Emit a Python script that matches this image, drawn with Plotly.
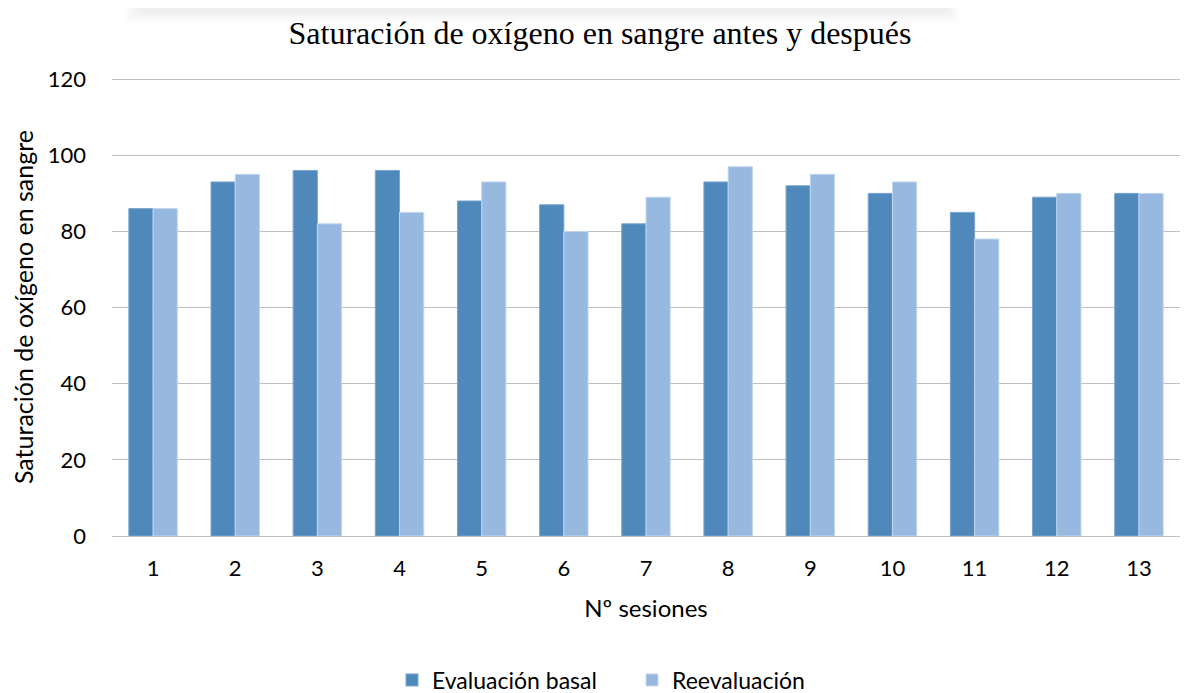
import plotly.graph_objects as go

sesiones = [str(i) for i in range(1, 14)]
basal = [86, 93, 96, 96, 88, 87, 82, 93, 92, 90, 85, 89, 90]
reev = [86, 95, 82, 85, 93, 80, 89, 97, 95, 93, 78, 90, 90]
y_ticks = [0, 20, 40, 60, 80, 100, 120]

font_sans = "Lato, 'Open Sans', sans-serif"

fig = go.Figure()
fig.add_trace(go.Bar(x=sesiones, y=basal, name="Evaluación basal",
                     marker=dict(color="#4f89bc", line=dict(color="#7aa5cf", width=1))))
fig.add_trace(go.Bar(x=sesiones, y=reev, name="Reevaluación",
                     marker=dict(color="#97b8df", line=dict(color="#c4d7ee", width=1))))

L, R, T, B = 104, 31, 70, 165
PH = 693.0 - T - B
PW = 1203.0 - L - R

# faint blurred shadow strip at the very top of the page
for i in range(8):
    fig.add_shape(type="rect", xref="paper", yref="paper",
                  x0=(117 - L + i * 2) / PW, x1=(952 - L - i * 2) / PW,
                  y0=1 + (T - 15 + i * 1.5) / PH, y1=1 + (T - 0) / PH,
                  fillcolor="black", opacity=0.009, line=dict(width=0), layer="below")

fig.update_layout(
    width=1203, height=693,
    margin=dict(l=L, r=R, t=T, b=B, autoexpand=False),
    paper_bgcolor="white", plot_bgcolor="white",
    barmode="group", bargap=0.41, bargroupgap=0.0,
    title=dict(text="Saturación de oxígeno en sangre antes y después",
               x=(600 - 8) / 1203, xanchor="center", y=1 - 25 / 693, yanchor="middle",
               font=dict(family="'Liberation Serif', 'Times New Roman', serif", size=32, color="#000000")),
    xaxis=dict(title=dict(text="Nº sesiones", font=dict(family=font_sans, size=24, color="#000"), standoff=19),
               tickfont=dict(family=font_sans, size=22, color="#000"),
               showgrid=False, showline=True, linecolor="#bfbfbf", linewidth=1, ticks="",
               automargin=False, ticklabelstandoff=13),
    yaxis=dict(title=dict(text="Saturación de oxígeno en sangre", font=dict(family=font_sans, size=25, color="#000"), standoff=10),
               tickfont=dict(family=font_sans, size=22, color="#000"),
               range=[0, 120.3], tickvals=y_ticks, showgrid=True, gridcolor="#bfbfbf", gridwidth=1,
               zeroline=False, ticks="", ticklabelstandoff=25, automargin=False),
    legend=dict(orientation="h", x=0.5 - 14 / PW, xanchor="center", y=-(672 - (T + PH)) / PH, yanchor="middle",
                font=dict(family=font_sans, size=23, color="#000"), itemwidth=30, tracegroupgap=0,
                entrywidth=195, entrywidthmode="pixels"),
)

fig.write_html("out.html")
